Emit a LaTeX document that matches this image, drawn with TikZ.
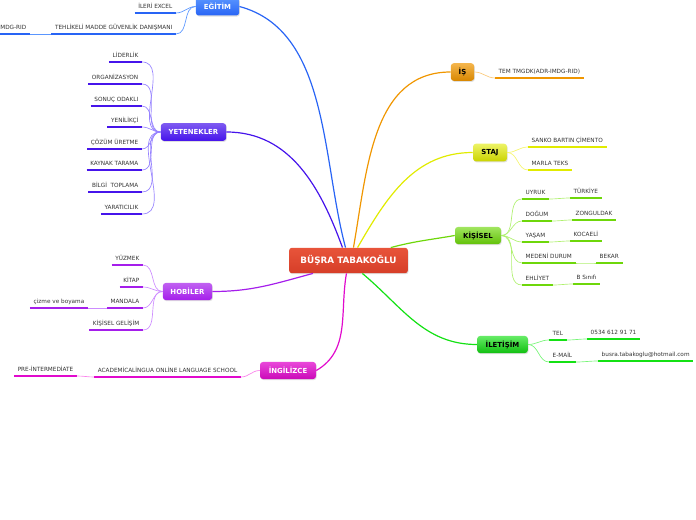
\documentclass[tikz,border=0pt]{standalone}
\usepackage{fontspec}
\setmainfont{DejaVu Sans}
\usetikzlibrary{shadows, calc}
\definecolor{myred}{RGB}{232, 84, 58}
\definecolor{myredd}{RGB}{214, 62, 40}
\definecolor{myblue}{RGB}{40, 100, 245}
\definecolor{mybluel}{RGB}{90, 150, 255}
\definecolor{myviolet}{RGB}{70, 20, 235}
\definecolor{myvioletl}{RGB}{150, 130, 255}
\definecolor{mypurple}{RGB}{165, 30, 235}
\definecolor{mypurplel}{RGB}{205, 140, 255}
\definecolor{mymagenta}{RGB}{225, 10, 205}
\definecolor{mymagental}{RGB}{250, 130, 235}
\definecolor{myorange}{RGB}{240, 150, 0}
\definecolor{myorangel}{RGB}{250, 200, 120}
\definecolor{myyellow}{RGB}{225, 235, 0}
\definecolor{myyellowl}{RGB}{245, 245, 110}
\definecolor{mylime}{RGB}{110, 215, 10}
\definecolor{myliml}{RGB}{175, 240, 110}
\definecolor{mygreen}{RGB}{20, 225, 20}
\definecolor{mygreenl}{RGB}{120, 245, 120}

\tikzset{
  topic/.style={rounded corners=2.2pt, inner sep=0pt, text=white,
    font=\fontsize{5.2}{6}\selectfont\bfseries, minimum height=13.2pt,
    drop shadow={opacity=0.25, shadow xshift=0.5pt, shadow yshift=-0.8pt}},
  leaf/.style={font=\fontsize{4.3}{5}\selectfont, text=black!80, inner xsep=2.6pt, inner ysep=2.1pt,
    text height=3.2pt, text depth=0.8pt,
    append after command={(\tikzlastnode.south west) edge[draw=#1, line width=1.7pt]
      (\tikzlastnode.south east)}},
  link/.style={draw=#1, line width=0.5pt},
  mainlink/.style={draw=#1, line width=0.9pt}
}

\begin{document}
\begin{tikzpicture}[x=0.75pt, y=-0.75pt]
\useasboundingbox (0,0) rectangle (696,520);
\clip (0,0) rectangle (696,520);

\node[topic, font=\fontsize{6.6}{8}\selectfont\bfseries, rounded corners=2pt,
  minimum width=89pt, minimum height=19pt, top color=myred, bottom color=myredd]
  (busra) at (348.5,260.5) {BÜŞRA TABAKOĞLU};

\node[topic, minimum width=32.5pt, minimum height=13.5pt, top color=mybluel, bottom color=myblue]
  (egitim) at (217.5,6.5) {EĞİTİM};
\node[topic, minimum width=49pt, top color=myviolet!70!white, bottom color=myviolet]
  (yetenek) at (193.5,132) {YETENEKLER};
\node[topic, minimum width=37pt, minimum height=12.8pt, top color=mypurple!70!white, bottom color=mypurple]
  (hobi) at (187.5,291.5) {HOBİLER};
\node[topic, minimum width=42pt, minimum height=12.8pt, top color=mymagenta!75!white, bottom color=mymagenta!90!black]
  (ingilizce) at (288,370.5) {İNGİLİZCE};
\node[topic, text=black, minimum width=17.5pt, top color=myorange!70!white, bottom color=myorange!90!black]
  (is) at (462.5,72) {İŞ};
\node[topic, text=black, minimum width=25.5pt, top color=myyellow!60!white, bottom color=myyellow!90!black]
  (staj) at (490,152.5) {STAJ};
\node[topic, text=black, minimum width=34.5pt, minimum height=12.8pt, top color=mylime!65!white, bottom color=mylime!90!black]
  (kisisel) at (478,235.5) {KİŞİSEL};
\node[topic, text=black, minimum width=38pt, minimum height=12.8pt, top color=mygreen!65!white, bottom color=mygreen!85!black]
  (iletisim) at (502.5,344.5) {İLETİŞİM};

% main branches
\draw[mainlink=myblue] (busra.103) to[out=105, in=-15, looseness=0.9] (egitim.east);
\draw[mainlink=myviolet] (busra.115) to[out=110, in=0] (yetenek.east);
\draw[mainlink=mypurple] (busra.200) to[out=195, in=0] (hobi.east);
\draw[mainlink=mymagenta] (busra.261) to[out=260, in=30] (ingilizce.east);
\draw[mainlink=myorange] (busra.69) to[out=80, in=180] (is.west);
\draw[mainlink=myyellow] (busra.55) to[out=60, in=180] (staj.west);
\draw[mainlink=mylime] (busra.17) to[out=15, in=190] (kisisel.west);
\draw[mainlink=mygreen] (busra.317) to[out=-40, in=180] (iletisim.west);

% egitim
\node[leaf=myblue, anchor=south east] (excel) at (176,13) {İLERİ EXCEL};
\node[leaf=myblue, anchor=south east] (tmgd) at (176,34) {TEHLİKELİ MADDE GÜVENLİK DANIŞMANI};
\node[leaf=myblue, anchor=south east] (rid) at (30,34) {MDG-RID};
\foreach \n in {excel, tmgd}
  \draw[link=mybluel] (egitim.west) to[out=180, in=0] (\n.south east);
\draw[link=mybluel] (tmgd.south west) -- (rid.south east);

% yetenekler
\foreach \n/\y/\t in {y1/62/LİDERLİK, y2/84/ORGANİZASYON, y3/106/SONUÇ ODAKLI,
    y4/127/YENİLİKÇİ, y5/149/ÇÖZÜM ÜRETME, y6/170/KAYNAK TARAMA,
    y7/192/BİLGİ\ \ TOPLAMA, y8/214/YARATICILIK} {
  \node[leaf=myviolet, anchor=south east] (\n) at (142,\y) {\t};
  \draw[link=myvioletl] (yetenek.west) to[out=180, in=0] (\n.south east);
}

% hobiler
\foreach \n/\y/\t in {h1/265/YÜZMEK, h2/287/KİTAP, h3/308/MANDALA, h4/330/KİŞİSEL GELİŞİM} {
  \node[leaf=mypurple, anchor=south east] (\n) at (143,\y) {\t};
  \draw[link=mypurplel] (hobi.west) to[out=180, in=0] (\n.south east);
}
\node[leaf=mypurple, anchor=south east] (cizme) at (88,308) {çizme ve boyama};
\draw[link=mypurplel] (h3.south west) -- (cizme.south east);

% ingilizce
\node[leaf=mymagenta, anchor=south east] (school) at (241,377) {ACADEMİCALİNGUA ONLİNE LANGUAGE SCHOOL};
\node[leaf=mymagenta, anchor=south east] (level) at (77,376) {PRE-İNTERMEDİATE};
\draw[link=mymagental] (ingilizce.west) to[out=180, in=0] (school.south east);
\draw[link=mymagental] (school.south west) to[out=180, in=0] (level.south east);

% is
\node[leaf=myorange, anchor=south west] (tem) at (495,78) {TEM TMGDK(ADR-IMDG-RID)};
\draw[link=myorangel] (is.east) to[out=0, in=180] (tem.south west);

% staj
\node[leaf=myyellow, anchor=south west] (sanko) at (528,147) {SANKO BARTIN ÇİMENTO};
\node[leaf=myyellow, anchor=south west] (marla) at (528,170) {MARLA TEKS};
\foreach \n in {sanko, marla}
  \draw[link=myyellowl] (staj.east) to[out=0, in=180] (\n.south west);

% kisisel
\foreach \n/\y/\t/\m/\x/\yy/\v in {k1/199/UYRUK/v1/570/198/TÜRKİYE,
    k2/221/DOĞUM/v2/572/220/ZONGULDAK, k3/242/YAŞAM/v3/570/241/KOCAELİ,
    k4/263/MEDENİ DURUM/v4/596/263/BEKAR, k5/285/EHLİYET/v5/573/284/B Sınıfı} {
  \node[leaf=mylime, anchor=south west] (\n) at (522,\y) {\t};
  \node[leaf=mylime, anchor=south west] (\m) at (\x,\yy) {\v};
  \draw[link=myliml] (kisisel.east) to[out=0, in=180] (\n.south west);
  \draw[link=myliml] (\n.south east) to[out=0, in=180] (\m.south west);
}

% iletisim
\node[leaf=mygreen, anchor=south west] (tel) at (549,340) {TEL};
\node[leaf=mygreen, anchor=south west] (mail) at (549,362) {E-MAİL};
\node[leaf=mygreen, anchor=south west] (telno) at (587,339) {0534 612 91 71};
\node[leaf=mygreen, anchor=south west] (adres) at (598,361) {busra.tabakoglu@hotmail.com};
\foreach \n in {tel, mail}
  \draw[link=mygreenl] (iletisim.east) to[out=0, in=180] (\n.south west);
\draw[link=mygreenl] (tel.south east) to[out=0, in=180] (telno.south west);
\draw[link=mygreenl] (mail.south east) to[out=0, in=180] (adres.south west);

\end{tikzpicture}
\end{document}
